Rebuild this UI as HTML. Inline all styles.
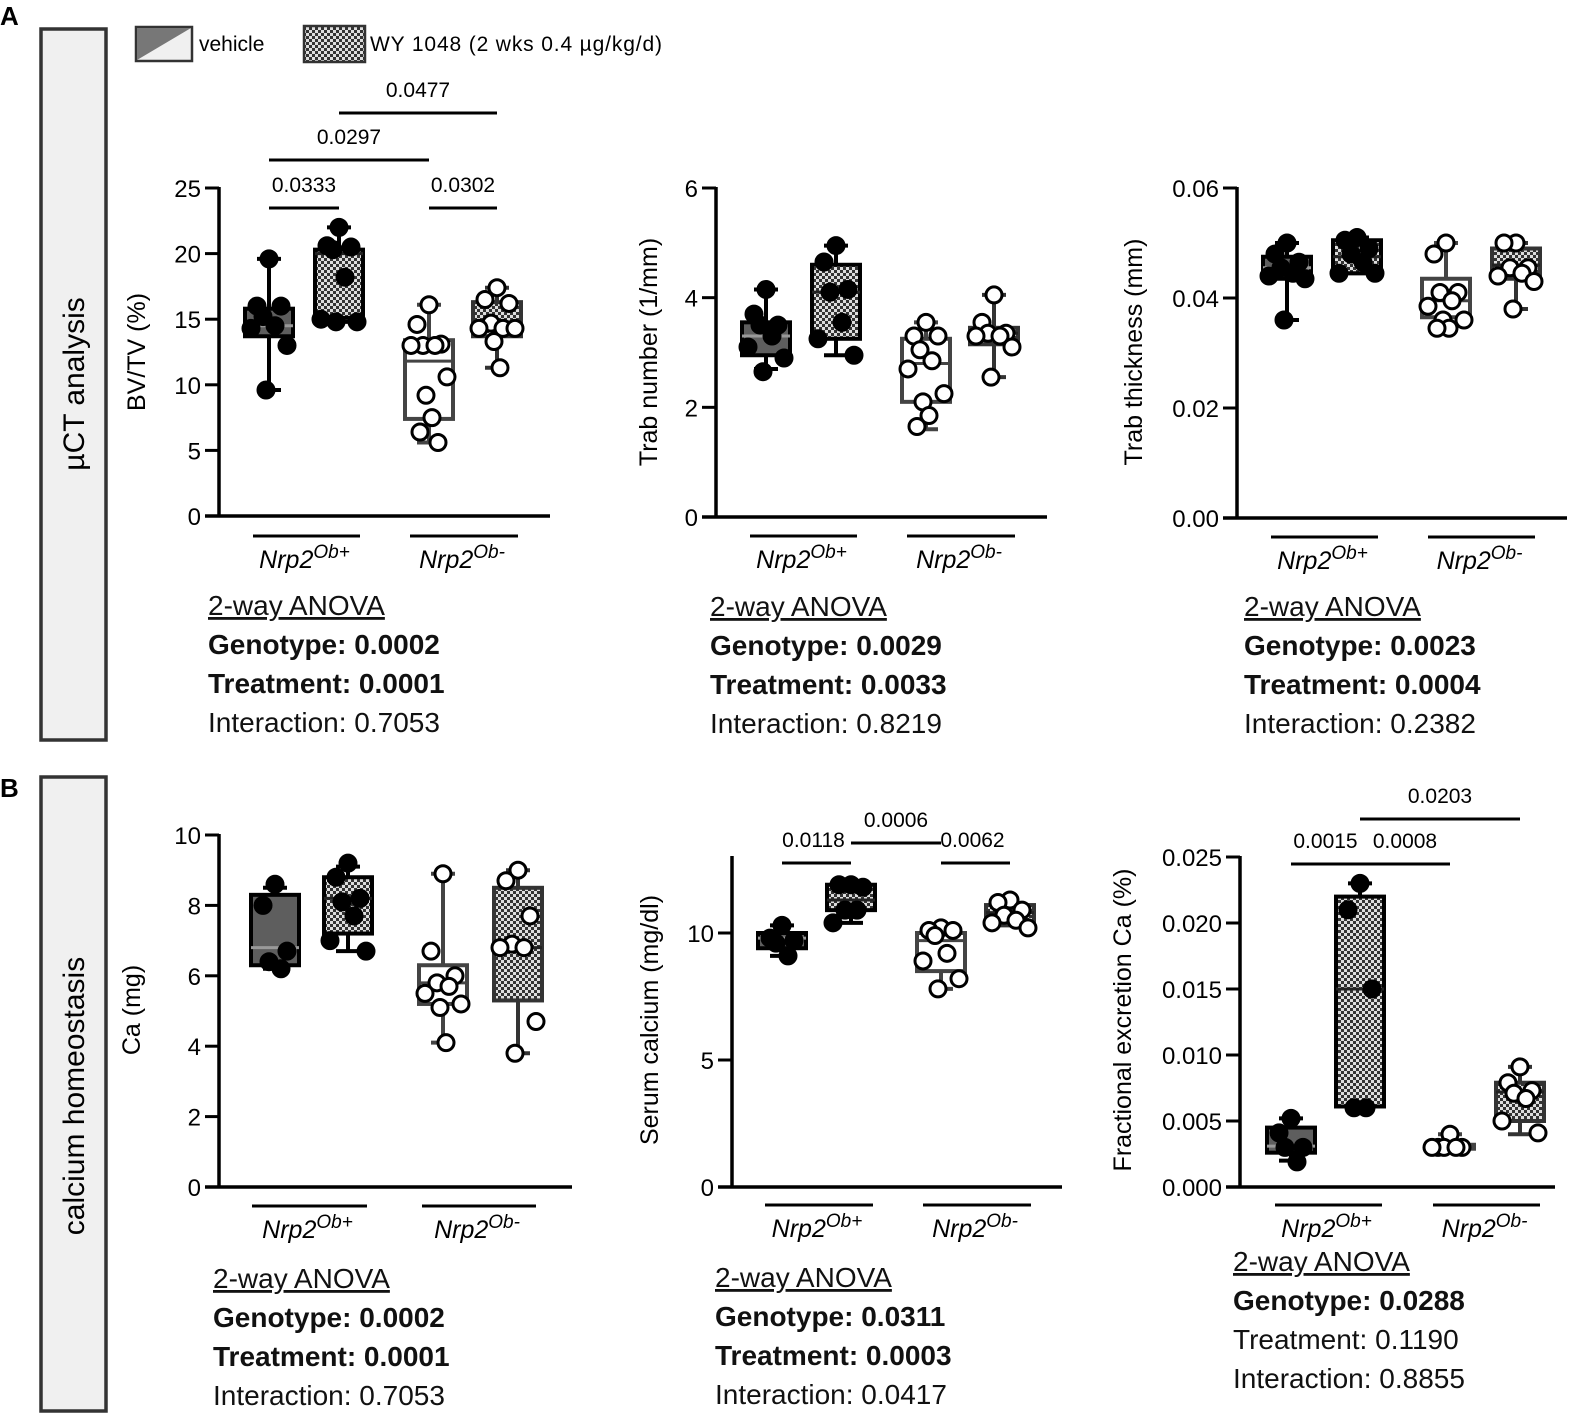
<!DOCTYPE html>
<html><head><meta charset="utf-8">
<style>
html,body{margin:0;padding:0;background:#fff;}
svg{display:block;font-family:"Liberation Sans",sans-serif;}
.anova{font-family:"Liberation Sans",sans-serif;font-size:28px;fill:#111;}
</style></head>
<body>
<svg id="fig" width="1572" height="1418" viewBox="0 0 1572 1418" xmlns="http://www.w3.org/2000/svg">
<defs>
<pattern id="chk" width="6" height="6" patternUnits="userSpaceOnUse">
<rect width="6" height="6" fill="#ddd"/>
<rect width="3" height="3" fill="#333"/>
<rect x="3" y="3" width="3" height="3" fill="#333"/>
</pattern>
</defs>
<text x="0" y="25" font-size="26" font-weight="bold">A</text>
<text x="0" y="797" font-size="26" font-weight="bold">B</text>
<rect x="41" y="29" width="65" height="711" fill="#f0f0f0" stroke="#333" stroke-width="3.5"/>
<text transform="translate(84,384) rotate(-90)" text-anchor="middle" font-size="30">µCT analysis</text>
<rect x="41" y="777" width="65" height="634" fill="#f0f0f0" stroke="#333" stroke-width="3.5"/>
<text transform="translate(84,1096) rotate(-90)" text-anchor="middle" font-size="30">calcium homeostasis</text>
<g>
<g>
<rect x="136" y="27" width="56" height="34" fill="#f0f0f0" stroke="#333" stroke-width="2.5"/>
<polygon points="137,28 191,28 137,60" fill="#777"/>
<text x="199" y="51" font-size="21">vehicle</text>
</g>
<g>
<rect x="304" y="26" width="61" height="36" fill="url(#chk)" stroke="#333" stroke-width="2.5"/>
<text x="370" y="51" font-size="21" textLength="292">WY 1048 (2 wks 0.4 µg/kg/d)</text>
</g>
</g>
<g id="charts"></g>
</svg>
<script>
// ---------- DATA ----------
// group order: vehicle Ob+, WY Ob+, vehicle Ob-, WY Ob-
const p1Min=[9.6,14.8,5.6,11.3], p1Q1=[13.7,15.1,7.4,13.7], p1Med=[14.5,20.0,11.8,14.8], p1Q3=[15.8,20.3,13.4,16.3], p1Max=[19.6,22.0,16.1,17.4];
const p1Pts=[[19.6,16,16,15.2,14.5,14.3,13,9.6],[22,20.6,20.5,20.3,18.2,15,14.8,14.8],[16.1,14.6,13.1,13,13,13,10.6,9.2,7.5,6.4,5.6],[17.4,16.5,16.2,14.7,14.3,14.3,14.3,13.3,11.3]];
const p1Ticks=[0,5,10,15,20,25];
const p2Min=[2.7,2.95,1.6,2.55], p2Q1=[2.95,3.25,2.1,3.15], p2Med=[3.3,4.1,2.8,3.35], p2Q3=[3.55,4.6,3.25,3.45], p2Max=[4.15,4.95,3.55,4.05];
const p2Pts=[[4.15,3.7,3.5,3.5,3.3,3.1,2.9,2.65],[4.95,4.65,4.15,4.1,3.55,3.25,2.95],[3.55,3.3,3.3,3.05,2.85,2.7,2.25,2.1,1.85,1.65],[4.05,3.55,3.35,3.35,3.3,3.3,3.1,2.55]];
const p2Ticks=[0,2,4,6];
const p3Min=[0.036,0.0445,0.0345,0.038], p3Q1=[0.0435,0.0445,0.0365,0.0435], p3Med=[0.0455,0.0475,0.0395,0.046], p3Q3=[0.0475,0.0505,0.0435,0.049], p3Max=[0.050,0.051,0.050,0.050];
const p3Pts=[[0.050,0.048,0.0465,0.0455,0.0445,0.044,0.0435,0.036],[0.051,0.0505,0.049,0.048,0.0465,0.0445,0.0445],[0.050,0.048,0.041,0.041,0.0395,0.0385,0.036,0.036,0.0345,0.0345],[0.050,0.050,0.0455,0.0455,0.0445,0.044,0.043,0.038]];
const p3Ticks=[0,0.02,0.04,0.06];
const p4Min=[6.2,6.7,4.1,3.8], p4Q1=[6.3,7.2,5.2,5.3], p4Med=[6.8,8.2,5.8,6.8], p4Q3=[8.3,8.8,6.3,8.5], p4Max=[8.5,9.1,8.9,9.0];
const p4Pts=[[8.6,8.0,6.7,6.4,6.2],[9.2,8.8,8.2,8.1,7.7,7.0,6.7],[8.9,6.7,6.0,5.8,5.7,5.5,5.2,5.1,4.1],[9.0,8.7,7.7,6.9,6.8,6.8,4.7,3.8]];
const p4Ticks=[0,2,4,6,8,10];
const p5Min=[9.1,10.4,7.8,10.3], p5Q1=[9.4,10.9,8.5,10.4], p5Med=[9.8,11.3,9.7,10.8], p5Q3=[10.0,11.9,10.0,11.1], p5Max=[10.3,11.9,10.2,11.1];
const p5Pts=[[10.3,9.8,9.7,9.6,9.1],[11.9,11.9,11.8,10.9,10.9,10.4],[10.2,10.1,10.1,9.9,9.2,8.9,8.2,7.8],[11.3,11.2,10.9,10.7,10.5,10.4,10.2]];
const p5Ticks=[0,5,10];
const p6Min=[0.002,0.006,0.0028,0.004], p6Q1=[0.0026,0.0061,0.0029,0.005], p6Med=[0.0031,0.015,0.003,0.0072], p6Q3=[0.0045,0.022,0.0032,0.0079], p6Max=[0.0052,0.023,0.004,0.0091];
const p6Pts=[[0.0052,0.0041,0.003,0.003,0.0019],[0.023,0.021,0.015,0.006,0.006],[0.004,0.003,0.003,0.003,0.003,0.003],[0.0091,0.0079,0.0073,0.0071,0.0067,0.005,0.0041]];
const p6Ticks=[0,0.005,0.010,0.015,0.020,0.025];

const sig1Labels=["0.0333","0.0302","0.0297","0.0477"], sig1From=[0,2,0,1], sig1To=[1,3,2,3];
const sig5Labels=["0.0118","0.0006","0.0062"], sig5From=[0,1,2], sig5To=[1,2,3];
const sig6Labels=["0.0015","0.0008","0.0203"], sig6From=[0,1,1], sig6To=[1,2,3];

const anova1=["0.0002","0.0001","0.7053"], anova2=["0.0029","0.0033","0.8219"], anova3=["0.0023","0.0004","0.2382"];
const anova4=["0.0002","0.0001","0.7053"], anova5=["0.0311","0.0003","0.0417"], anova6=["0.0288","0.1190","0.8855"];
const bold1=[1,1,0], bold2=[1,1,0], bold3=[1,1,0], bold4=[1,1,0], bold5=[1,1,0], bold6=[1,0,0];

// ---------- LAYOUT ----------
const NS="http://www.w3.org/2000/svg";
const root=document.getElementById('charts');
function mk(tag,attrs,parent){const e=document.createElementNS(NS,tag);for(const k in attrs)e.setAttribute(k,attrs[k]);(parent||root).appendChild(e);return e;}

const panels=[
 {id:'bvtv',ax:219,y0:516,yT:188,vmax:25,xEnd:550,cx:[269,339,429,497],gl:[[253,360],[410,518]],gy:536,title:'BV/TV (%)',tx:136,ty:352,ticks:p1Ticks,dec:0,
  min:p1Min,q1:p1Q1,med:p1Med,q3:p1Q3,max:p1Max,pts:p1Pts,sig:[sig1Labels,sig1From,sig1To],sigY:[208,208,160,113],sigLx:[0,0,0,0],
  an:anova1,bold:bold1,anX:208,anY:615},
 {id:'trab-number',ax:716,y0:517,yT:188,vmax:6,xEnd:1047,cx:[766,836,926,994],gl:[[750,857],[907,1015]],gy:536,title:'Trab number (1/mm)',tx:648,ty:352,ticks:p2Ticks,dec:0,
  min:p2Min,q1:p2Q1,med:p2Med,q3:p2Q3,max:p2Max,pts:p2Pts,sig:null,an:anova2,bold:bold2,anX:710,anY:616},
 {id:'trab-thickness',ax:1237,y0:518,yT:188,vmax:0.06,xEnd:1567,cx:[1287,1357,1446,1516],gl:[[1271,1378],[1428,1535]],gy:537,title:'Trab thickness (mm)',tx:1133,ty:352,ticks:p3Ticks,dec:2,
  min:p3Min,q1:p3Q1,med:p3Med,q3:p3Q3,max:p3Max,pts:p3Pts,sig:null,an:anova3,bold:bold3,anX:1244,anY:616},
 {id:'ca-mg',ax:219,y0:1187,yT:835,vmax:10,xEnd:572,cx:[275,348,443,518],gl:[[252,367],[422,536]],gy:1206,title:'Ca (mg)',tx:131,ty:1010,ticks:p4Ticks,dec:0,
  min:p4Min,q1:p4Q1,med:p4Med,q3:p4Q3,max:p4Max,pts:p4Pts,sig:null,an:anova4,bold:bold4,anX:213,anY:1288},
 {id:'serum-calcium',ax:732,y0:1187,yT:933,vmax:10,axTop:857,xEnd:1062,cx:[782,851,941,1010],gl:[[765,873],[923,1031]],gy:1205,title:'Serum calcium (mg/dl)',tx:649,ty:1020,ticks:p5Ticks,dec:0,
  min:p5Min,q1:p5Q1,med:p5Med,q3:p5Q3,max:p5Max,pts:p5Pts,sig:[sig5Labels,sig5From,sig5To],sigY:[863,843,863],sigLx:[-3,0,-3],
  an:anova5,bold:bold5,anX:715,anY:1287},
 {id:'fractional-excretion',ax:1240,y0:1187,yT:857,vmax:0.025,xEnd:1555,cx:[1291,1360,1450,1520],gl:[[1275,1382],[1433,1540]],gy:1205,title:'Fractional excretion Ca (%)',tx:1122,ty:1020,ticks:p6Ticks,dec:3,
  min:p6Min,q1:p6Q1,med:p6Med,q3:p6Q3,max:p6Max,pts:p6Pts,sig:[sig6Labels,sig6From,sig6To],sigY:[864,864,819],sigLx:[0,0,0],
  an:anova6,bold:bold6,anX:1233,anY:1271}
];
const groupNames=['vehicle-ob-plus','wy1048-ob-plus','vehicle-ob-minus','wy1048-ob-minus'];
const boxFill=['#5e5e5e','url(#chk)','#ffffff','url(#chk)'];
const boxStroke=['#000','#000','#444','#333'];
const dotFill=['#000','#000','#fff','#fff'];
const jit=[0,-12,12,-6,6,-18,18,-3,3,-9,9];

panels.forEach(P=>{
  const g=mk('g',{});
  
  
  const y=v=>P.y0-(v/P.vmax)*(P.y0-P.yT);
  const top=P.axTop!==undefined?P.axTop:P.yT;
  const ya=mk('line',{x1:P.ax,y1:top-1,x2:P.ax,y2:P.y0+1.5,stroke:'#000','stroke-width':3.5},g);
  
  
  const xa=mk('line',{x1:P.ax-14,y1:P.y0,x2:P.xEnd,y2:P.y0,stroke:'#000','stroke-width':3.5},g);
  
  
  P.ticks.forEach(t=>{
    const ty=y(t);
    mk('line',{x1:P.ax-14,y1:ty,x2:P.ax,y2:ty,stroke:'#000','stroke-width':3},g);
    const tl=mk('text',{x:P.ax-18,y:ty+9,'text-anchor':'end','font-size':24},g);
    tl.textContent=t.toFixed(P.dec);
    
    
  });
  const tt=mk('text',{transform:`translate(${P.tx+9},${P.ty}) rotate(-90)`,'text-anchor':'middle','font-size':25},g);
  tt.textContent=P.title;
  
  
  ['Ob+','Ob-'].forEach((s,i)=>{
    const [a,b]=P.gl[i];
    mk('line',{x1:a,y1:P.gy,x2:b,y2:P.gy,stroke:'#000','stroke-width':3},g);
    const lab=mk('text',{x:(a+b)/2-2,y:P.gy+32,'text-anchor':'middle','font-size':25,'font-style':'italic'},g);
    lab.innerHTML='Nrp2<tspan dy="-10" font-size="19">'+s+'</tspan>';
    
    
  });
  for(let i=0;i<4;i++){
    const bg=mk('g',{},g);
    
    
    const cx=P.cx[i], w=48;
    mk('line',{x1:cx,y1:y(P.max[i]),x2:cx,y2:y(P.min[i]),stroke:boxStroke[i],'stroke-width':4},bg);
    mk('line',{x1:cx-12,y1:y(P.max[i]),x2:cx+12,y2:y(P.max[i]),stroke:boxStroke[i],'stroke-width':4},bg);
    mk('line',{x1:cx-12,y1:y(P.min[i]),x2:cx+12,y2:y(P.min[i]),stroke:boxStroke[i],'stroke-width':4},bg);
    mk('rect',{x:cx-w/2,y:y(P.q3[i]),width:w,height:Math.max(2,y(P.q1[i])-y(P.q3[i])),fill:boxFill[i],stroke:boxStroke[i],'stroke-width':4},bg);
    mk('line',{x1:cx-w/2,y1:y(P.med[i]),x2:cx+w/2,y2:y(P.med[i]),stroke:i==2?'#444':(i==0?'#999':'#222'),'stroke-width':3},bg);
    P.pts[i].forEach((v,k)=>{
      const c=mk('circle',{cx:cx+jit[k%jit.length],cy:y(v),r:8,fill:dotFill[i],stroke:'#000','stroke-width':3},bg);
      
      
    });
  }
  if(P.sig){
    const [labs,fr,to]=P.sig;
    labs.forEach((l,k)=>{
      const sg=mk('g',{},g);
      
      
      const a=P.cx[fr[k]], b=P.cx[to[k]], yy=P.sigY[k];
      mk('line',{x1:a,y1:yy,x2:b,y2:yy,stroke:'#000','stroke-width':3},sg);
      const t=mk('text',{x:(a+b)/2+P.sigLx[k],y:yy-16,'text-anchor':'middle','font-size':21},sg);
      t.textContent=l;
    });
  }
  const ag=mk('g',{},g);
  
  
  const lines=[['2-way ANOVA',null],['Genotype: ',0],['Treatment: ',1],['Interaction: ',2]];
  lines.forEach((L,k)=>{
    const t=mk('text',{x:P.anX,y:P.anY+k*39,class:'anova'},ag);
    if(L[1]===null){t.textContent=L[0];t.setAttribute('text-decoration','underline');}
    else{
      t.textContent=L[0]+P.an[L[1]];
      if(P.bold[L[1]])t.setAttribute('font-weight','bold');
    }
  });
});
</script>
</body></html>
